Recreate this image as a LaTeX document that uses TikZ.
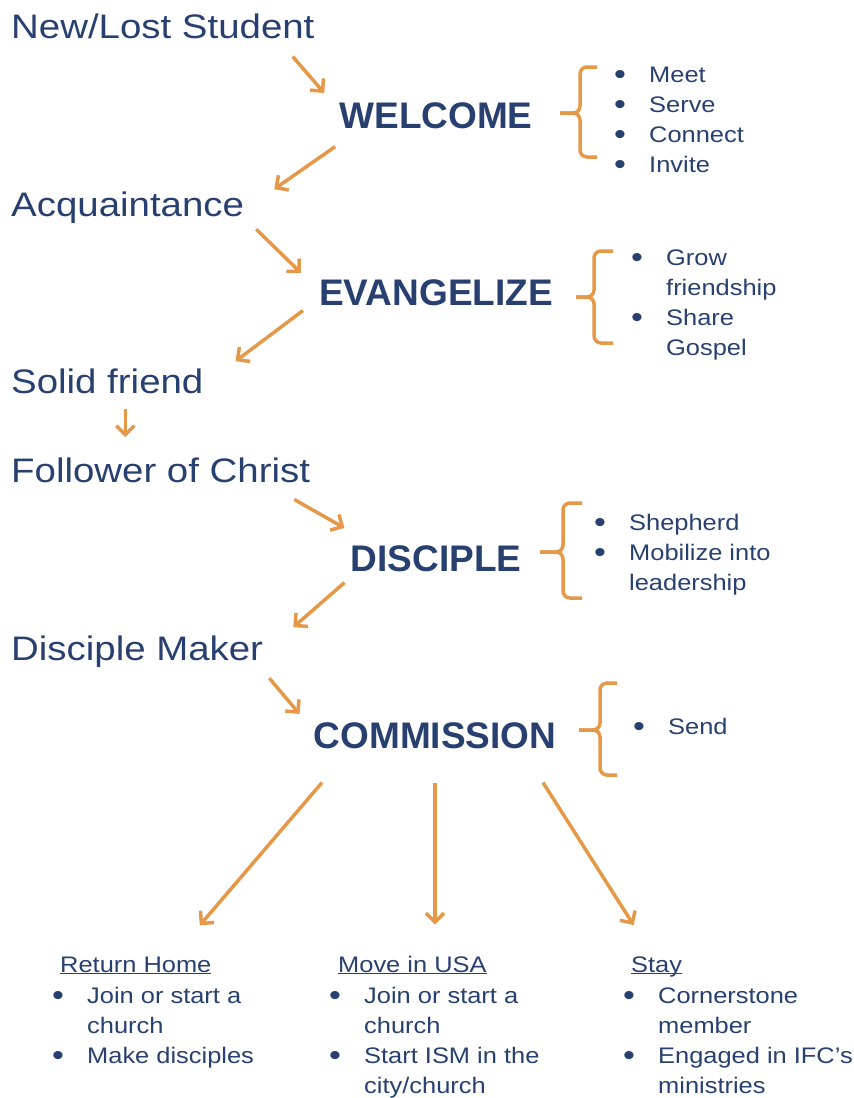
\documentclass[tikz,border=0pt]{standalone}
\usepackage{fontspec}
\setmainfont{Liberation Sans}
\newfontfamily\lblfont{Liberation Sans}[FakeStretch=1.13]
\usepackage{tikz}
\usetikzlibrary{arrows.meta,calc}
\definecolor{navy}{RGB}{40,64,112}
\definecolor{orng}{RGB}{228,152,72}
\newcommand{\bl}{\makebox[35pt][l]{\raisebox{-2pt}{\fontsize{30}{30}\selectfont\textbullet}}}
\newcommand{\ind}{\hspace*{35pt}}
\tikzset{
  lbl/.style={anchor=base west,inner sep=0pt,text=navy,font=\lblfont\fontsize{34}{40}\selectfont},
  stage/.style={anchor=base,inner sep=0pt,text=navy,font=\bfseries\fontsize{37}{44}\selectfont},
  lst/.style={anchor=base west,inner sep=0pt,text=navy,align=left,font=\lblfont\fontsize{22.5}{30}\selectfont},
  hdr/.style={anchor=base west,inner sep=0pt,text=navy,font=\lblfont\fontsize{22.5}{30}\selectfont},
  arr/.style={draw=orng,line width=3.5pt,-{Straight Barb[length=9pt,width=18pt]}},
  brc/.style={draw=orng,line width=3.5pt,rounded corners=7pt}
}
\begin{document}
\begin{tikzpicture}[x=1pt,y=-1pt]
\useasboundingbox (0,0) rectangle (854,1098);
% stages down the left side
\node[lbl] (newlost) at (11,38) {New/Lost Student};
\node[stage] (welcome) at (436,128) {WELCOME};
\node[lbl] (acq) at (11,216) {Acquaintance};
\node[stage] (evang) at (436,305) {EVANGELIZE};
\node[lbl] (solid) at (11,393) {Solid friend};
\node[lbl] (follower) at (11,482) {Follower of Christ};
\node[stage] (disciple) at (436,571) {DISCIPLE};
\node[lbl] (dmaker) at (11,660) {Disciple Maker};
\node[stage] (commission) at (435,748) {COMMISSION};
% lists behind the braces (placed by their last line)
\node[lst] (welcomelist) at (614,172) {\bl Meet\\\bl Serve\\\bl Connect\\\bl Invite};
\node[lst] (evanglist) at (631,355) {\bl Grow\\\ind friendship\\\bl Share\\\ind Gospel};
\node[lst] (disciplelist) at (594,590) {\bl Shepherd\\\bl Mobilize into\\\ind leadership};
\node[lst] (commlist) at (633,734) {\bl Send};
\foreach \xe/\xv/\xt/\yt/\ym/\yb in {597/580/560/67/113/157,613/594/576/251/297/343,582/563/540/503/552/598,617/600/579/683/730/775}
{ \draw[brc] (\xe,\yt)--(\xv,\yt)--(\xv,\ym)--(\xt,\ym);
  \draw[brc] (\xe,\yb)--(\xv,\yb)--(\xv,\ym)--(\xt,\ym);
}
% where they go
\node[hdr] (home) at (60,972) {\underline{Return Home}};
\node[hdr] (usa) at (338,972) {\underline{Move in USA}};
\node[hdr] (stay) at (631,972) {\underline{\smash{Stay}\vphantom{S}}};
\node[lst] (homelist) at (52,1063) {\bl Join or start a\\\ind church\\\bl Make disciples};
\node[lst] (usalist) at (329,1093) {\bl Join or start a\\\ind church\\\bl Start ISM in the\\\ind city/church};
\node[lst] (staylist) at (623,1093) {\bl Cornerstone\\\ind member\\\bl Engaged in IFC’s\\\ind ministries};
% arrows
\draw[arr] ($(newlost.south east)+(-22,18)$)--($(welcome.north west)+(-15,-9)$);
\draw[arr] ($(welcome.south west)+(-4,18)$)--($(acq.north east)+(30,-2)$);
\draw[arr] ($(acq.south east)+(12,6)$)--($(evang.north west)+(-18,-6)$);
\draw[arr] ($(evang.south west)+(-16,5)$)--($(solid.north east)+(32,-7)$);
\draw[arr] ($(solid.south)+(18,15)$)--($(solid.south |- follower.north)+(18,-20)$);
\draw[arr] ($(follower.south east)+(-16,17)$)--($(disciple.north west)+(-6,-17)$);
\draw[arr] ($(disciple.south west)+(-6,11)$)--($(dmaker.north east)+(30,-8)$);
\draw[arr] ($(dmaker.south east)+(6,11)$)--($(commission.north west)+(-14,-8)$);
\draw[arr] ($(commission.south)+(-113,34)$)--($(home.north)+(64,-31)$);
\draw[arr] ($(commission.south)+(0,34)$)--($(commission.south |- usa.north)+(0,-31)$);
\draw[arr] ($(commission.south)+(108,34)$)--($(stay.north)+(-23,-31)$);
\end{tikzpicture}
\end{document}
